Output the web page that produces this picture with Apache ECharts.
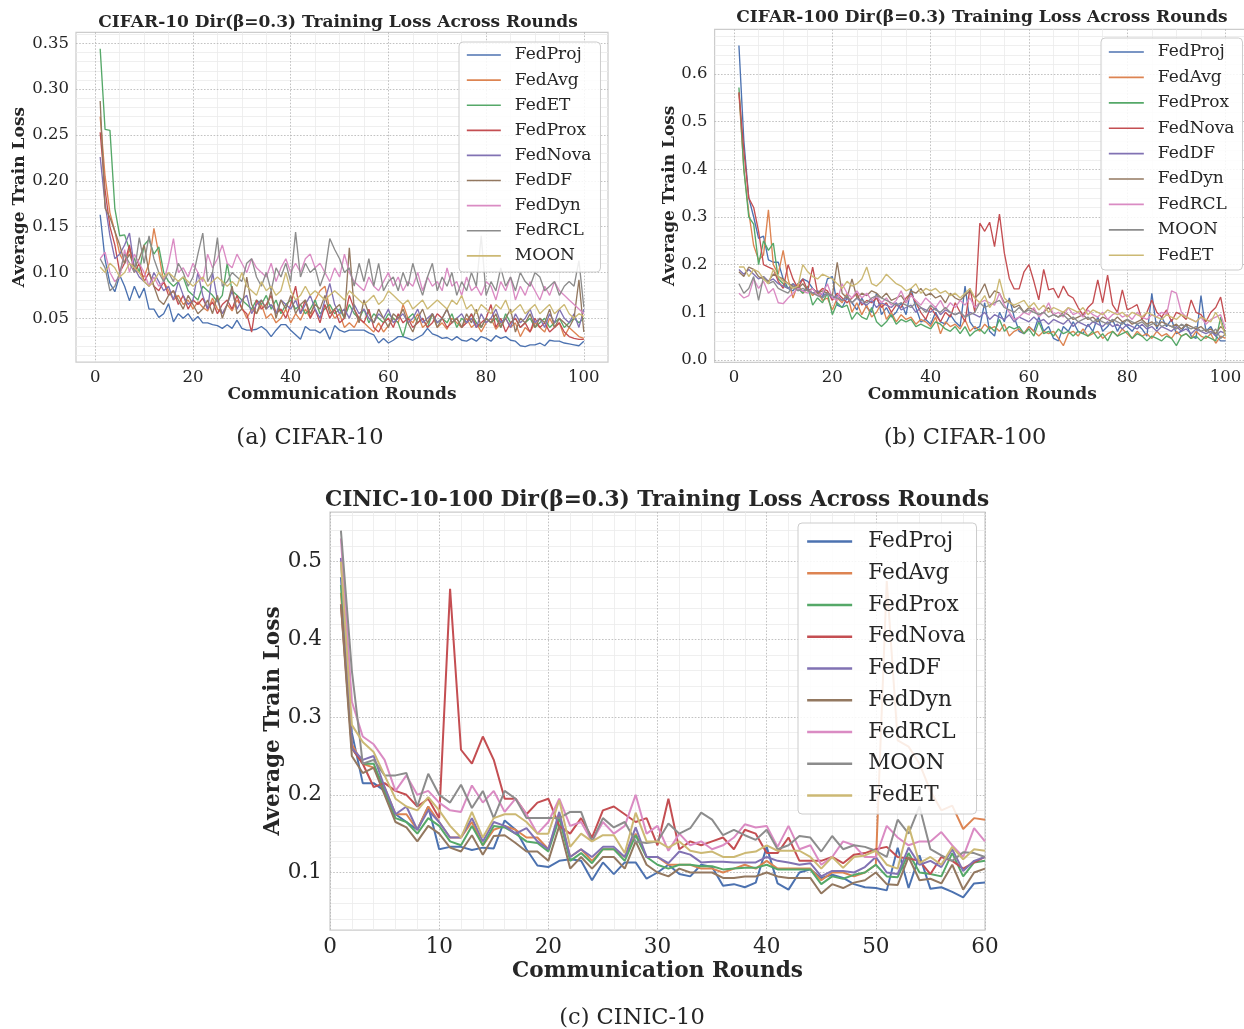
<!DOCTYPE html>
<html><head><meta charset="utf-8">
<script src="https://cdn.jsdelivr.net/npm/echarts@6/dist/echarts.min.js"></script>
<style>html,body{margin:0;padding:0;background:#fff}#c{width:1244px;height:1029px}</style>
</head><body><div id="c"></div><script>
// ---------- names / ticks ----------
const namesA = ['FedProj','FedAvg','FedET','FedProx','FedNova','FedDF','FedDyn','FedRCL','MOON'];
const namesB = ['FedProj','FedAvg','FedProx','FedNova','FedDF','FedDyn','FedRCL','MOON','FedET'];
const namesC = ['FedProj','FedAvg','FedProx','FedNova','FedDF','FedDyn','FedRCL','MOON','FedET'];
const roundsA = Array.from({length:100},(_,i)=>i+1);
const roundsB = Array.from({length:100},(_,i)=>i+1);
const roundsC = Array.from({length:60},(_,i)=>i+1);
const xTicksA = [0,20,40,60,80,100];
const xMinorA = [5,10,15,25,30,35,45,50,55,65,70,75,85,90,95];
const yTicksA = [0.05,0.10,0.15,0.20,0.25,0.30,0.35];
const yMinorA = [0.01,0.02,0.03,0.04,0.06,0.07,0.08,0.09,0.11,0.12,0.13,0.14,0.16,0.17,0.18,0.19,0.21,0.22,0.23,0.24,0.26,0.27,0.28,0.29,0.31,0.32,0.33,0.34,0.36];
const xTicksB = [0,20,40,60,80,100];
const xMinorB = [5,10,15,25,30,35,45,50,55,65,70,75,85,90,95];
const yTicksB = [0.0,0.1,0.2,0.3,0.4,0.5,0.6];
const yMinorB = [0.02,0.04,0.06,0.08,0.12,0.14,0.16,0.18,0.22,0.24,0.26,0.28,0.32,0.34,0.36,0.38,0.42,0.44,0.46,0.48,0.52,0.54,0.56,0.58,0.62,0.64,0.66,0.68];
const xTicksC = [0,10,20,30,40,50,60];
const xMinorC = [2,4,6,8,12,14,16,18,22,24,26,28,32,34,36,38,42,44,46,48,52,54,56,58];
const yTicksC = [0.1,0.2,0.3,0.4,0.5];
const yMinorC = [0.04,0.06,0.08,0.12,0.14,0.16,0.18,0.22,0.24,0.26,0.28,0.32,0.34,0.36,0.38,0.42,0.44,0.46,0.48,0.52,0.54,0.56];

// ---------- (a) CIFAR-10 ----------
const a_FedProj = [0.163,0.114,0.088,0.079,0.097,0.085,0.069,0.085,0.072,0.083,
0.060,0.060,0.051,0.055,0.066,0.046,0.055,0.050,0.055,0.047,
0.052,0.045,0.045,0.043,0.042,0.039,0.043,0.039,0.048,0.039,
0.037,0.037,0.038,0.041,0.037,0.030,0.037,0.043,0.043,0.037,
0.032,0.027,0.041,0.037,0.037,0.034,0.039,0.027,0.042,0.037,
0.035,0.037,0.037,0.037,0.037,0.034,0.032,0.023,0.028,0.023,
0.026,0.030,0.030,0.028,0.026,0.029,0.032,0.039,0.033,0.031,
0.028,0.029,0.026,0.030,0.026,0.025,0.028,0.025,0.030,0.028,
0.025,0.031,0.028,0.030,0.026,0.025,0.020,0.019,0.021,0.021,
0.023,0.020,0.026,0.025,0.025,0.023,0.022,0.021,0.020,0.025];
const a_FedAvg = [0.270,0.205,0.165,0.145,0.120,0.110,0.125,0.105,0.100,0.095,
0.110,0.148,0.120,0.090,0.080,0.070,0.075,0.065,0.070,0.060,
0.068,0.062,0.058,0.072,0.060,0.055,0.065,0.058,0.070,0.062,
0.050,0.060,0.055,0.065,0.050,0.055,0.045,0.050,0.060,0.045,
0.055,0.048,0.060,0.050,0.070,0.080,0.085,0.060,0.050,0.055,
0.040,0.045,0.040,0.050,0.045,0.040,0.035,0.045,0.035,0.042,
0.050,0.045,0.065,0.050,0.045,0.055,0.040,0.045,0.055,0.040,
0.045,0.038,0.050,0.045,0.040,0.050,0.040,0.045,0.035,0.045,
0.050,0.038,0.045,0.050,0.040,0.045,0.030,0.040,0.035,0.045,
0.040,0.035,0.050,0.040,0.045,0.030,0.040,0.035,0.030,0.028];
const a_FedET = [0.344,0.256,0.255,0.170,0.140,0.141,0.125,0.115,0.100,0.130,
0.136,0.120,0.128,0.100,0.090,0.085,0.090,0.095,0.080,0.075,
0.070,0.085,0.080,0.075,0.068,0.075,0.110,0.080,0.075,0.070,
0.065,0.060,0.070,0.065,0.075,0.060,0.070,0.055,0.065,0.070,
0.060,0.065,0.055,0.060,0.070,0.055,0.060,0.065,0.055,0.060,
0.050,0.065,0.055,0.050,0.060,0.045,0.055,0.050,0.045,0.055,
0.050,0.045,0.030,0.050,0.055,0.045,0.050,0.040,0.055,0.045,
0.050,0.045,0.055,0.040,0.050,0.045,0.055,0.045,0.040,0.050,
0.045,0.050,0.040,0.055,0.045,0.050,0.040,0.045,0.050,0.040,
0.045,0.050,0.040,0.045,0.050,0.040,0.045,0.050,0.045,0.050];
const a_FedProx = [0.253,0.190,0.150,0.130,0.100,0.110,0.130,0.100,0.110,0.090,
0.100,0.085,0.080,0.090,0.075,0.080,0.065,0.075,0.060,0.070,
0.065,0.072,0.060,0.068,0.055,0.065,0.070,0.060,0.075,0.060,
0.055,0.035,0.070,0.060,0.065,0.075,0.055,0.060,0.050,0.065,
0.085,0.055,0.070,0.050,0.060,0.045,0.065,0.050,0.060,0.045,
0.050,0.075,0.060,0.050,0.045,0.060,0.040,0.035,0.045,0.050,
0.040,0.055,0.045,0.050,0.040,0.045,0.050,0.040,0.045,0.055,
0.050,0.040,0.045,0.050,0.040,0.045,0.055,0.040,0.045,0.050,
0.065,0.040,0.050,0.035,0.045,0.050,0.040,0.045,0.035,0.050,
0.040,0.045,0.035,0.040,0.045,0.035,0.030,0.028,0.027,0.027];
const a_FedNova = [0.226,0.175,0.140,0.115,0.120,0.130,0.143,0.105,0.095,0.090,
0.085,0.100,0.090,0.080,0.085,0.070,0.090,0.075,0.065,0.070,
0.100,0.075,0.060,0.100,0.070,0.055,0.065,0.080,0.060,0.070,
0.075,0.055,0.065,0.070,0.060,0.065,0.055,0.070,0.065,0.060,
0.070,0.055,0.065,0.075,0.060,0.050,0.070,0.088,0.065,0.055,
0.060,0.050,0.065,0.055,0.060,0.050,0.045,0.055,0.050,0.060,
0.045,0.050,0.055,0.045,0.050,0.060,0.045,0.050,0.055,0.045,
0.050,0.060,0.045,0.050,0.055,0.045,0.050,0.040,0.055,0.045,
0.050,0.060,0.045,0.050,0.040,0.055,0.045,0.050,0.060,0.045,
0.050,0.040,0.055,0.045,0.060,0.050,0.045,0.055,0.040,0.060];
const a_FedDF = [0.287,0.170,0.160,0.145,0.130,0.110,0.120,0.105,0.115,0.130,
0.100,0.085,0.070,0.065,0.075,0.080,0.070,0.060,0.075,0.065,
0.055,0.060,0.070,0.055,0.075,0.050,0.065,0.085,0.055,0.060,
0.095,0.065,0.055,0.070,0.060,0.080,0.050,0.070,0.060,0.075,
0.055,0.065,0.070,0.055,0.065,0.060,0.075,0.055,0.060,0.065,
0.050,0.127,0.060,0.045,0.070,0.055,0.045,0.060,0.050,0.040,
0.055,0.050,0.060,0.045,0.035,0.050,0.060,0.045,0.055,0.040,
0.050,0.060,0.045,0.050,0.040,0.055,0.045,0.060,0.040,0.050,
0.045,0.055,0.040,0.050,0.060,0.035,0.050,0.045,0.055,0.040,
0.050,0.045,0.060,0.040,0.050,0.045,0.040,0.050,0.092,0.035];
const a_FedDyn = [0.115,0.122,0.100,0.090,0.095,0.125,0.100,0.120,0.110,0.100,
0.085,0.095,0.085,0.090,0.110,0.137,0.100,0.105,0.095,0.110,
0.100,0.090,0.120,0.105,0.115,0.130,0.110,0.105,0.120,0.110,
0.100,0.115,0.105,0.100,0.095,0.110,0.090,0.105,0.115,0.100,
0.110,0.100,0.115,0.120,0.105,0.110,0.100,0.090,0.105,0.095,
0.120,0.100,0.090,0.085,0.080,0.095,0.085,0.080,0.090,0.100,
0.085,0.095,0.080,0.090,0.085,0.100,0.080,0.095,0.085,0.090,
0.080,0.105,0.085,0.090,0.075,0.095,0.080,0.085,0.075,0.090,
0.085,0.070,0.090,0.080,0.095,0.070,0.085,0.075,0.090,0.080,
0.070,0.085,0.075,0.090,0.080,0.075,0.070,0.065,0.060,0.055];
const a_FedRCL = [0.115,0.105,0.080,0.085,0.100,0.120,0.110,0.100,0.138,0.110,
0.140,0.115,0.100,0.090,0.100,0.090,0.110,0.100,0.085,0.095,
0.120,0.143,0.090,0.100,0.138,0.085,0.090,0.100,0.095,0.090,
0.110,0.115,0.095,0.085,0.100,0.080,0.105,0.095,0.110,0.090,
0.144,0.095,0.110,0.100,0.105,0.085,0.100,0.137,0.125,0.115,
0.100,0.105,0.085,0.110,0.090,0.115,0.085,0.110,0.080,0.090,
0.095,0.080,0.100,0.085,0.110,0.090,0.075,0.095,0.110,0.080,
0.095,0.085,0.100,0.075,0.090,0.080,0.100,0.085,0.140,0.075,
0.090,0.080,0.105,0.085,0.095,0.080,0.100,0.090,0.085,0.100,
0.095,0.080,0.085,0.090,0.075,0.085,0.090,0.085,0.113,0.062];
const a_MOON = [0.106,0.100,0.110,0.105,0.095,0.100,0.110,0.105,0.100,0.090,
0.085,0.090,0.100,0.095,0.100,0.095,0.090,0.095,0.090,0.085,
0.090,0.095,0.085,0.090,0.095,0.090,0.085,0.090,0.085,0.100,
0.085,0.080,0.075,0.090,0.080,0.085,0.075,0.080,0.100,0.080,
0.070,0.075,0.085,0.075,0.080,0.075,0.070,0.075,0.080,0.075,
0.070,0.080,0.075,0.070,0.065,0.070,0.075,0.065,0.070,0.080,
0.075,0.070,0.065,0.070,0.060,0.065,0.070,0.060,0.065,0.070,
0.065,0.060,0.070,0.065,0.075,0.060,0.065,0.055,0.065,0.060,
0.055,0.065,0.060,0.070,0.055,0.060,0.065,0.055,0.060,0.065,
0.055,0.060,0.065,0.055,0.060,0.065,0.055,0.050,0.055,0.052];

// ---------- (b) CIFAR-100 ----------
const b_FedProj = [0.660,0.460,0.340,0.300,0.255,0.260,0.210,0.205,0.205,0.170,
0.150,0.145,0.160,0.170,0.165,0.150,0.140,0.130,0.170,0.175,
0.115,0.110,0.130,0.120,0.105,0.130,0.110,0.100,0.140,0.095,
0.110,0.090,0.100,0.120,0.095,0.150,0.110,0.080,0.085,0.075,
0.100,0.080,0.075,0.095,0.080,0.070,0.155,0.080,0.065,0.070,
0.120,0.060,0.050,0.100,0.080,0.130,0.090,0.060,0.055,0.070,
0.060,0.090,0.060,0.070,0.045,0.040,0.070,0.060,0.080,0.060,
0.055,0.075,0.060,0.090,0.060,0.070,0.085,0.060,0.080,0.070,
0.060,0.075,0.065,0.050,0.140,0.065,0.090,0.070,0.085,0.055,
0.060,0.075,0.050,0.045,0.135,0.060,0.070,0.050,0.040,0.040];
const b_FedAvg = [0.560,0.400,0.310,0.240,0.210,0.220,0.315,0.200,0.180,0.230,
0.170,0.130,0.160,0.140,0.150,0.135,0.145,0.125,0.130,0.105,
0.130,0.120,0.140,0.100,0.120,0.095,0.115,0.090,0.100,0.120,
0.085,0.100,0.080,0.095,0.085,0.090,0.075,0.085,0.080,0.070,
0.090,0.055,0.080,0.070,0.075,0.065,0.085,0.060,0.070,0.060,
0.075,0.065,0.070,0.060,0.075,0.050,0.060,0.065,0.055,0.070,
0.060,0.050,0.060,0.055,0.060,0.045,0.030,0.055,0.060,0.050,
0.065,0.050,0.055,0.060,0.045,0.055,0.060,0.050,0.065,0.055,
0.045,0.060,0.050,0.055,0.045,0.060,0.050,0.055,0.045,0.060,
0.050,0.055,0.045,0.060,0.050,0.045,0.055,0.035,0.050,0.045];
const b_FedProx = [0.572,0.400,0.300,0.285,0.200,0.250,0.230,0.245,0.170,0.160,
0.150,0.160,0.150,0.140,0.155,0.115,0.130,0.120,0.140,0.095,
0.120,0.110,0.115,0.085,0.100,0.090,0.085,0.110,0.080,0.070,
0.080,0.095,0.075,0.085,0.080,0.085,0.070,0.075,0.070,0.065,
0.080,0.075,0.065,0.060,0.070,0.055,0.070,0.050,0.060,0.065,
0.055,0.070,0.060,0.085,0.060,0.070,0.065,0.070,0.055,0.065,
0.050,0.080,0.055,0.060,0.050,0.065,0.055,0.060,0.050,0.060,
0.055,0.050,0.060,0.045,0.055,0.040,0.060,0.050,0.055,0.060,
0.045,0.055,0.050,0.040,0.050,0.045,0.040,0.050,0.045,0.030,
0.050,0.055,0.045,0.050,0.040,0.050,0.045,0.040,0.090,0.050];
const b_FedNova = [0.562,0.440,0.340,0.320,0.270,0.200,0.195,0.190,0.165,0.150,
0.200,0.170,0.150,0.170,0.145,0.195,0.140,0.150,0.145,0.125,
0.140,0.130,0.120,0.130,0.140,0.115,0.125,0.120,0.130,0.110,
0.120,0.100,0.115,0.110,0.130,0.140,0.120,0.100,0.085,0.110,
0.095,0.080,0.100,0.090,0.120,0.100,0.080,0.150,0.100,0.287,
0.270,0.289,0.238,0.306,0.224,0.171,0.149,0.149,0.185,0.200,
0.165,0.126,0.190,0.147,0.150,0.130,0.155,0.136,0.130,0.110,
0.094,0.110,0.120,0.168,0.120,0.178,0.116,0.100,0.147,0.105,
0.110,0.116,0.085,0.100,0.126,0.100,0.090,0.105,0.080,0.100,
0.095,0.085,0.126,0.100,0.095,0.080,0.100,0.110,0.132,0.080];
const b_FedDF = [0.190,0.180,0.190,0.180,0.170,0.175,0.165,0.170,0.160,0.155,
0.150,0.160,0.150,0.145,0.150,0.140,0.145,0.135,0.140,0.130,
0.135,0.125,0.130,0.120,0.130,0.120,0.115,0.125,0.110,0.120,
0.115,0.110,0.120,0.105,0.110,0.115,0.100,0.110,0.105,0.100,
0.110,0.095,0.105,0.100,0.095,0.100,0.090,0.100,0.095,0.090,
0.100,0.085,0.095,0.090,0.085,0.095,0.080,0.090,0.085,0.080,
0.090,0.080,0.085,0.075,0.085,0.080,0.075,0.085,0.070,0.080,
0.075,0.070,0.080,0.075,0.070,0.080,0.070,0.075,0.065,0.075,
0.070,0.065,0.075,0.065,0.070,0.060,0.070,0.065,0.060,0.070,
0.060,0.065,0.055,0.065,0.060,0.055,0.060,0.050,0.060,0.055];
const b_FedDyn = [0.185,0.175,0.195,0.190,0.175,0.170,0.165,0.180,0.175,0.170,
0.160,0.155,0.150,0.160,0.145,0.150,0.140,0.145,0.140,0.135,
0.205,0.140,0.130,0.170,0.130,0.140,0.135,0.145,0.140,0.130,
0.140,0.125,0.130,0.135,0.120,0.145,0.140,0.150,0.135,0.140,
0.130,0.135,0.120,0.140,0.130,0.125,0.135,0.145,0.130,0.140,
0.160,0.130,0.145,0.140,0.120,0.125,0.110,0.115,0.100,0.110,
0.105,0.095,0.100,0.110,0.095,0.090,0.100,0.095,0.085,0.090,
0.095,0.085,0.090,0.080,0.090,0.085,0.080,0.090,0.080,0.085,
0.075,0.080,0.085,0.075,0.080,0.070,0.080,0.075,0.070,0.075,
0.065,0.075,0.070,0.065,0.070,0.060,0.065,0.055,0.070,0.060];
const b_FedRCL = [0.140,0.130,0.135,0.170,0.150,0.165,0.140,0.150,0.120,0.118,
0.130,0.140,0.150,0.145,0.140,0.150,0.135,0.140,0.160,0.130,
0.125,0.160,0.140,0.130,0.145,0.130,0.140,0.125,0.135,0.120,
0.130,0.115,0.125,0.145,0.120,0.135,0.125,0.115,0.130,0.120,
0.110,0.125,0.105,0.120,0.110,0.125,0.115,0.130,0.110,0.120,
0.125,0.120,0.115,0.140,0.115,0.100,0.085,0.090,0.100,0.095,
0.110,0.090,0.100,0.120,0.095,0.100,0.090,0.110,0.095,0.100,
0.090,0.105,0.095,0.090,0.100,0.085,0.095,0.100,0.090,0.095,
0.085,0.100,0.090,0.085,0.095,0.090,0.100,0.095,0.145,0.140,
0.100,0.090,0.085,0.080,0.090,0.075,0.085,0.090,0.095,0.065];
const b_MOON = [0.160,0.140,0.150,0.175,0.125,0.175,0.160,0.165,0.150,0.145,
0.140,0.155,0.145,0.150,0.145,0.140,0.135,0.130,0.140,0.135,
0.130,0.125,0.135,0.120,0.130,0.125,0.120,0.130,0.135,0.130,
0.125,0.120,0.115,0.120,0.115,0.110,0.120,0.110,0.100,0.115,
0.105,0.100,0.110,0.100,0.095,0.100,0.090,0.095,0.100,0.120,
0.110,0.115,0.120,0.125,0.110,0.105,0.100,0.110,0.100,0.105,
0.100,0.095,0.100,0.090,0.095,0.090,0.095,0.085,0.090,0.080,
0.085,0.090,0.080,0.085,0.080,0.075,0.085,0.080,0.075,0.085,
0.080,0.075,0.080,0.070,0.075,0.080,0.070,0.075,0.070,0.065,
0.075,0.070,0.065,0.070,0.060,0.065,0.055,0.065,0.045,0.055];
const b_FedET = [0.195,0.195,0.175,0.190,0.185,0.170,0.160,0.190,0.175,0.165,
0.160,0.150,0.155,0.200,0.185,0.175,0.170,0.180,0.175,0.170,
0.160,0.150,0.165,0.155,0.160,0.170,0.195,0.160,0.155,0.165,
0.180,0.170,0.160,0.155,0.145,0.150,0.160,0.140,0.150,0.145,
0.150,0.140,0.145,0.135,0.140,0.130,0.140,0.150,0.130,0.120,
0.135,0.110,0.125,0.170,0.130,0.120,0.115,0.120,0.125,0.110,
0.120,0.105,0.115,0.100,0.110,0.105,0.100,0.110,0.105,0.100,
0.110,0.095,0.105,0.100,0.095,0.105,0.100,0.095,0.100,0.090,
0.100,0.095,0.090,0.100,0.095,0.090,0.085,0.095,0.090,0.085,
0.095,0.090,0.085,0.080,0.090,0.085,0.080,0.100,0.080,0.050];

// ---------- (c) CINIC-10 ----------
const c_FedProj = [0.480,0.280,0.215,0.215,0.205,0.175,0.165,0.155,0.185,0.130,
0.133,0.133,0.129,0.132,0.131,0.167,0.155,0.130,0.109,0.107,
0.115,0.117,0.115,0.090,0.113,0.098,0.113,0.113,0.092,0.100,
0.110,0.098,0.095,0.110,0.107,0.083,0.085,0.081,0.087,0.133,
0.086,0.078,0.100,0.104,0.093,0.097,0.093,0.085,0.081,0.080,
0.077,0.132,0.080,0.122,0.079,0.081,0.075,0.068,0.086,0.087];
const c_FedAvg = [0.460,0.265,0.240,0.235,0.210,0.175,0.175,0.155,0.185,0.165,
0.145,0.145,0.165,0.135,0.155,0.160,0.155,0.145,0.145,0.130,
0.175,0.120,0.130,0.115,0.130,0.130,0.120,0.150,0.120,0.120,
0.110,0.110,0.110,0.105,0.105,0.100,0.105,0.110,0.105,0.115,
0.105,0.105,0.105,0.105,0.090,0.100,0.100,0.095,0.100,0.110,
0.475,0.270,0.262,0.240,0.205,0.180,0.186,0.156,0.170,0.168];
const c_FedProx = [0.470,0.260,0.240,0.240,0.205,0.170,0.165,0.150,0.170,0.160,
0.140,0.135,0.160,0.135,0.160,0.158,0.150,0.140,0.138,0.127,
0.170,0.115,0.125,0.112,0.130,0.130,0.115,0.148,0.120,0.110,
0.105,0.110,0.110,0.108,0.108,0.104,0.105,0.106,0.106,0.110,
0.104,0.104,0.104,0.104,0.085,0.095,0.092,0.097,0.100,0.110,
0.095,0.094,0.125,0.100,0.098,0.095,0.125,0.095,0.113,0.115];
const c_FedNova = [0.445,0.260,0.240,0.210,0.215,0.205,0.200,0.185,0.195,0.170,
0.465,0.258,0.240,0.275,0.245,0.195,0.195,0.175,0.190,0.195,
0.160,0.150,0.170,0.145,0.180,0.185,0.175,0.165,0.170,0.135,
0.195,0.130,0.140,0.135,0.140,0.145,0.130,0.155,0.150,0.125,
0.125,0.145,0.115,0.115,0.115,0.120,0.112,0.123,0.125,0.130,
0.133,0.120,0.118,0.115,0.098,0.120,0.115,0.105,0.113,0.120];
const c_FedDF = [0.505,0.260,0.245,0.250,0.210,0.175,0.185,0.155,0.180,0.165,
0.145,0.145,0.170,0.140,0.165,0.160,0.150,0.157,0.140,0.130,
0.178,0.120,0.130,0.120,0.133,0.133,0.120,0.158,0.120,0.120,
0.112,0.127,0.123,0.113,0.114,0.114,0.113,0.113,0.113,0.120,
0.115,0.113,0.110,0.112,0.095,0.102,0.102,0.100,0.107,0.120,
0.100,0.098,0.132,0.110,0.115,0.107,0.130,0.102,0.115,0.120];
const c_FedDyn = [0.445,0.250,0.228,0.235,0.200,0.165,0.158,0.140,0.160,0.150,
0.132,0.127,0.148,0.123,0.147,0.148,0.138,0.127,0.127,0.115,
0.160,0.105,0.120,0.105,0.120,0.120,0.105,0.140,0.110,0.100,
0.095,0.105,0.100,0.100,0.100,0.093,0.093,0.095,0.095,0.100,
0.095,0.093,0.093,0.093,0.073,0.085,0.080,0.087,0.090,0.100,
0.085,0.084,0.120,0.090,0.092,0.086,0.110,0.078,0.100,0.105];
const c_FedRCL = [0.530,0.320,0.275,0.265,0.245,0.205,0.225,0.200,0.205,0.190,
0.180,0.178,0.212,0.190,0.205,0.178,0.195,0.175,0.150,0.165,
0.195,0.160,0.165,0.140,0.165,0.150,0.160,0.200,0.150,0.160,
0.128,0.150,0.135,0.140,0.130,0.135,0.145,0.162,0.158,0.160,
0.133,0.160,0.130,0.135,0.110,0.120,0.140,0.135,0.120,0.120,
0.160,0.145,0.135,0.140,0.140,0.152,0.135,0.120,0.157,0.140];
const c_MOON = [0.540,0.360,0.240,0.245,0.225,0.225,0.228,0.185,0.227,0.200,
0.190,0.213,0.183,0.205,0.170,0.205,0.195,0.170,0.170,0.170,
0.170,0.178,0.178,0.140,0.170,0.158,0.165,0.140,0.138,0.140,
0.163,0.150,0.157,0.177,0.168,0.148,0.155,0.148,0.142,0.155,
0.130,0.135,0.147,0.145,0.127,0.147,0.130,0.135,0.133,0.128,
0.120,0.168,0.150,0.185,0.130,0.122,0.115,0.126,0.125,0.120];
const c_FedET = [0.500,0.290,0.268,0.255,0.225,0.195,0.185,0.180,0.197,0.180,
0.160,0.145,0.178,0.145,0.170,0.175,0.175,0.165,0.150,0.150,
0.193,0.133,0.150,0.140,0.148,0.148,0.125,0.177,0.140,0.140,
0.132,0.140,0.128,0.125,0.127,0.120,0.120,0.125,0.127,0.135,
0.128,0.128,0.128,0.120,0.105,0.120,0.106,0.120,0.122,0.128,
0.110,0.105,0.160,0.112,0.120,0.110,0.133,0.117,0.130,0.128];

const dataA = {FedProj:a_FedProj,FedAvg:a_FedAvg,FedET:a_FedET,FedProx:a_FedProx,FedNova:a_FedNova,FedDF:a_FedDF,FedDyn:a_FedDyn,FedRCL:a_FedRCL,MOON:a_MOON};
const dataB = {FedProj:b_FedProj,FedAvg:b_FedAvg,FedProx:b_FedProx,FedNova:b_FedNova,FedDF:b_FedDF,FedDyn:b_FedDyn,FedRCL:b_FedRCL,MOON:b_MOON,FedET:b_FedET};
const dataC = {FedProj:c_FedProj,FedAvg:c_FedAvg,FedProx:c_FedProx,FedNova:c_FedNova,FedDF:c_FedDF,FedDyn:c_FedDyn,FedRCL:c_FedRCL,MOON:c_MOON,FedET:c_FedET};

// ---------- styling / layout ----------
const palette = ['#4C72B0','#DD8452','#55A868','#C44E52','#8172B3','#937860','#DA8BC3','#8C8C8C','#CCB974'];
const FONT = 'DejaVu Serif';
const TXT = '#262626';

const panels = [
  {key:'a', names:namesA, data:dataA, rounds:roundsA,
   grid:{left:76, top:32.3, width:532, height:329.7}, xr:[-3.95,104.95], yr:[0.0023,0.362],
   xMaj:xTicksA, xMin:xMinorA, yMaj:yTicksA, yMin:yMinorA, dec:2, tickFs:16.5, nameFs:17,
   xGap:24, yGap:47.5, xMargin:7, yMargin:7, lw:1.35,
   legend:{left:459, top:42, itemWidth:34, itemHeight:17, itemGap:8.1, padding:[4.5,9,7.7,7], fs:17, tpad:9}},
  {key:'b', names:namesB, data:dataB, rounds:roundsB,
   grid:{left:714.6, top:29.3, width:535.3, height:333}, xr:[-3.95,104.95], yr:[-0.005,0.694],
   xMaj:xTicksB, xMin:xMinorB, yMaj:yTicksB, yMin:yMinorB, dec:1, tickFs:16.5, nameFs:17,
   xGap:24, yGap:36.6, xMargin:7, yMargin:7, lw:1.35,
   legend:{left:1101, top:38, itemWidth:35, itemHeight:17, itemGap:8.4, padding:[5.5,8,6.3,7], fs:17, tpad:9}},
  {key:'c', names:namesC, data:dataC, rounds:roundsC,
   grid:{left:330, top:512, width:655, height:418}, xr:[0,60], yr:[0.026,0.564],
   xMaj:xTicksC, xMin:xMinorC, yMaj:yTicksC, yMin:yMinorC, dec:1, tickFs:21.5, nameFs:21.6,
   xGap:30, yGap:46, xMargin:6, yMargin:8, lw:2,
   legend:{left:798, top:523, itemWidth:45, itemHeight:21, itemGap:9.75, padding:[7.5,11,7.5,8], fs:21.6, tpad:11}}
];

const grids = [], xAxes = [], yAxes = [], series = [], legends = [];
panels.forEach((p, gi) => {
  grids.push(Object.assign({show:true, borderColor:'#cccccc', borderWidth:1.25, backgroundColor:'#ffffff',
    containLabel:false, outerBoundsMode:'none'}, p.grid));
  const majorSplit = {show:true, lineStyle:{color:'#b3b3b3', width:0.8, type:[1.6,1.6]}};
  const minorSplit = {show:true, lineStyle:{color:'#ebebeb', width:0.8}};
  // minor axes
  xAxes.push({gridIndex:gi, type:'value', position:'bottom', min:p.xr[0], max:p.xr[1], z:0,
    axisLine:{show:false}, axisTick:{show:false, customValues:p.xMin}, axisLabel:{show:false},
    splitLine:minorSplit});
  yAxes.push({gridIndex:gi, type:'value', min:p.yr[0], max:p.yr[1], z:0, position:'left',
    axisLine:{show:false}, axisTick:{show:false, customValues:p.yMin}, axisLabel:{show:false},
    splitLine:minorSplit});
  // main axes
  xAxes.push({gridIndex:gi, type:'value', position:'bottom', min:p.xr[0], max:p.xr[1], z:1,
    axisLine:{show:false}, axisTick:{show:false, customValues:p.xMaj},
    axisLabel:{customValues:p.xMaj, fontFamily:FONT, fontSize:p.tickFs, color:TXT, margin:p.xMargin,
      formatter:v=>String(Math.round(v))},
    splitLine:majorSplit,
    name:'Communication Rounds', nameLocation:'middle', nameGap:p.xGap, nameMoveOverlap:false,
    nameTextStyle:{fontFamily:FONT, fontWeight:'bold', fontSize:p.nameFs, color:TXT}});
  yAxes.push({gridIndex:gi, type:'value', min:p.yr[0], max:p.yr[1], z:1, position:'left',
    axisLine:{show:false}, axisTick:{show:false, customValues:p.yMaj},
    axisLabel:{customValues:p.yMaj, fontFamily:FONT, fontSize:p.tickFs, color:TXT, margin:p.yMargin,
      formatter:v=>v.toFixed(p.dec)},
    splitLine:majorSplit,
    name:'Average Train Loss', nameLocation:'middle', nameGap:p.yGap, nameMoveOverlap:false,
    nameTextStyle:{fontFamily:FONT, fontWeight:'bold', fontSize:p.nameFs, color:TXT}});
  const xi = gi*2+1, yi = gi*2+1;
  p.names.forEach((n, k) => {
    series.push({
      name:p.key+'|'+n, type:'line', xAxisIndex:xi, yAxisIndex:yi,
      data:p.data[n].map((v, j) => [p.rounds[j], v]),
      symbol:'none', smooth:false, silent:true, z:2,
      color:palette[k],
      lineStyle:{color:palette[k], width:p.lw}
    });
  });
  const L = p.legend;
  legends.push({orient:'vertical', left:L.left, top:L.top, itemWidth:L.itemWidth, itemHeight:L.itemHeight,
    itemGap:L.itemGap, padding:L.padding, backgroundColor:'rgba(255,255,255,0.85)',
    borderColor:'#cccccc', borderWidth:1, borderRadius:4, selectedMode:false,
    itemStyle:{opacity:0, color:'rgba(0,0,0,0)', borderWidth:0},
    lineStyle:{width:p.lw + 0.3},
    textStyle:{fontFamily:FONT, fontSize:L.fs, color:TXT, padding:[0,0,0,L.tpad]},
    formatter:nm=>nm.split('|')[1],
    data:p.names.map(n=>p.key+'|'+n)});
});

function txt(x, y, text, size, weight){
  return {type:'text', x:x, y:y, silent:true, z:10,
    style:{text:text, fontFamily:FONT, fontSize:size, fontWeight:weight, fill:TXT,
      align:'center', verticalAlign:'middle', textAlign:'center', textVerticalAlign:'middle'}};
}

const option = {
  animation:false,
  backgroundColor:'#ffffff',
  grid:grids, xAxis:xAxes, yAxis:yAxes, series:series, legend:legends,
  graphic:[
    txt(338, 23, 'CIFAR-10 Dir(β=0.3) Training Loss Across Rounds', 17, 'bold'),
    txt(982, 18, 'CIFAR-100 Dir(β=0.3) Training Loss Across Rounds', 17, 'bold'),
    txt(657, 500, 'CINIC-10-100 Dir(β=0.3) Training Loss Across Rounds', 21.7, 'bold'),
    txt(310, 438, '(a) CIFAR-10', 22.5, 'normal'),
    txt(965, 438, '(b) CIFAR-100', 22.5, 'normal'),
    txt(632, 1018, '(c) CINIC-10', 22.5, 'normal')
  ]
};
const chart = echarts.init(document.getElementById('c'), null, {renderer:'canvas'});
chart.setOption(option);
</script></body></html>
